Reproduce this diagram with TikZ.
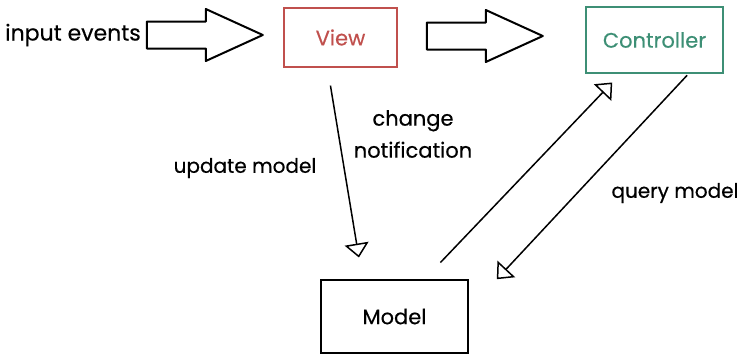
\documentclass[tikz,border=0pt]{standalone}
\usepackage{fontspec}
\setmainfont{Poppins}[FakeBold=0.4]
\usetikzlibrary{arrows.meta,shapes.arrows}
\definecolor{viewred}{HTML}{C0504D}
\definecolor{ctrlgreen}{HTML}{3D8F75}

\begin{document}
\begin{tikzpicture}[x=1pt,y=-1pt,
  box/.style={draw,line width=1.6pt,inner sep=0pt,font=\fontsize{21}{25}\selectfont},
  lbl/.style={font=\fontsize{20}{32}\selectfont},
  flow/.style={line width=1.5pt,-{Triangle[open,length=14pt,width=24pt,line width=1.5pt]}},
  fat/.style={draw,line width=2pt,line join=round,single arrow,
    single arrow head extend=12.5pt,single arrow tip angle=49,
    minimum height=116pt,inner xsep=0pt,inner ysep=12.5pt}]
\useasboundingbox (0,0) rectangle (739,354);
\node[lbl,font=\fontsize{22}{26}\selectfont] (input) at (73,35) {input events};
\node[box,draw=viewred,text=viewred,minimum width=113pt,minimum height=59pt] (view) at (340.5,37.5) {View};
\node[box,draw=ctrlgreen,text=ctrlgreen,minimum width=137pt,minimum height=66pt] (ctrl) at (654.5,40) {Controller};
\node[box,minimum width=147pt,minimum height=73pt] (model) at (394.5,316.5) {Model};
\node[fat] (arrin) at (190,35) {};
\node[fat] (arrvc) at (470,36) {};
\draw[flow,shorten <=18pt,shorten >=22pt] ([xshift=-13pt]view.south) -- ([xshift=-32pt]model.north);
\draw[flow,shorten <=23pt,shorten >=12pt] ([xshift=30pt]model.north) -- ([xshift=-34pt]ctrl.south);
\draw[flow,shorten <=2pt] ([xshift=34pt]ctrl.south) -- ([xshift=28pt]model.north east);
\node[lbl,align=center,font=\fontsize{21}{32}\selectfont] (lchange) at (413,134) {change\\notification};
\node[lbl] (lupdate) at (245,168) {update model};
\node[lbl] (lquery) at (675,193) {query model};
\end{tikzpicture}
\end{document}
